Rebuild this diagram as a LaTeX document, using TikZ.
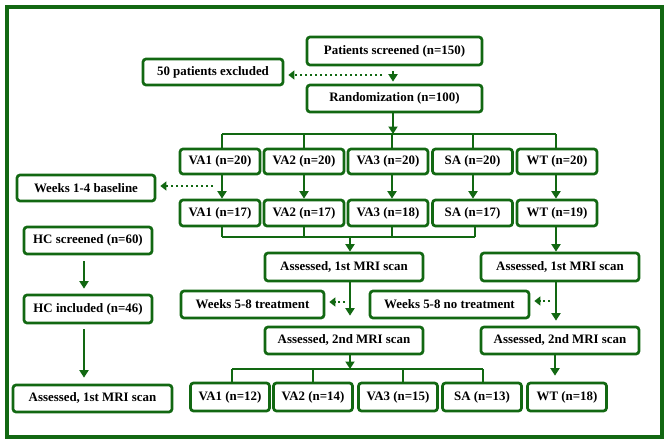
\documentclass[tikz,border=0pt]{standalone}
\usepackage{fontspec}
\setmainfont{Liberation Serif}
\usetikzlibrary{arrows.meta}
\definecolor{dg}{RGB}{18,104,18}
\begin{document}
\begin{tikzpicture}[x=1pt,y=-1pt,
  box/.style={draw=dg, line width=2.7pt, rounded corners=3pt, fill=white, inner sep=0pt,
    font=\bfseries\fontsize{12.9}{14}\selectfont, text=black},
  ln/.style={draw=dg, line width=2.8pt},
  arr/.style={ln, -{Triangle[width=9pt,length=7.5pt]}},
  dot/.style={draw=dg, line width=2.8pt, dash pattern=on 2.5pt off 2.5pt, -{Triangle[width=9pt,length=6pt]}}]
\useasboundingbox (0,0) rectangle (670,447);
\draw[dg, line width=3.2pt] (7,7) rectangle (662,437);

% top
\node[box, minimum width=175, minimum height=28] (ps) at (394.5,51) {Patients screened (n=150)};
\node[box, minimum width=140, minimum height=26] (ex) at (213,72) {50 patients excluded};
\node[box, minimum width=175, minimum height=27] (rnd) at (394.5,98.5) {Randomization (n=100)};
\draw[arr, shorten <=5pt, shorten >=2pt] (ps.south -| 393,0) -- (rnd.north -| 393,0);
\coordinate (d0) at (382,75);
\draw[dot, shorten >=4pt] (d0) -- (ex.east |- d0);

% row 1
\foreach \n/\x/\t in {va1/220/VA1, va2/304/VA2, va3/388/VA3, sa/472.5/SA, wt/557/WT}{
  \node[box, minimum width=80, minimum height=25] (\n a) at (\x,161.5) {\t\ (n=20)};
}
\foreach \n/\x/\t in {va1/220/VA1 (n=17), va2/304/VA2 (n=17), va3/388/VA3 (n=18), sa/472.5/SA (n=17), wt/557/WT (n=19)}{
  \node[box, minimum width=80, minimum height=26] (\n b) at (\x,213) {\t};
}
\coordinate (bar1L) at (222,134);
\coordinate (bar1R) at (556,134);
\draw[ln] (bar1L) -- (bar1R);
\draw[arr] (rnd.south -| 393,0) -- (393,134);
\foreach \n/\x in {va1/222, va2/304, va3/392, sa/473, wt/556}{
  \draw[ln] (\x,134) -- (\n a.north -| \x,0);
  \draw[arr] (\n a.south -| \x,0) -- (\n b.north -| \x,0);
}
\node[box, minimum width=138, minimum height=26] (wk1) at (86,188) {Weeks 1-4 baseline};
\coordinate (d1) at (213,186);
\draw[dot, shorten >=4pt] (d1) -- (wk1.east |- d1);

% row 2 joins
\draw[ln] (222,237) -- (475,237);
\foreach \n/\x in {va1/222, va2/304, va3/392, sa/475}{
  \draw[ln] (\n b.south -| \x,0) -- (\x,237);
}
\node[box, minimum width=158, minimum height=28] (a1l) at (344,267) {Assessed, 1st MRI scan};
\node[box, minimum width=158, minimum height=28] (a1r) at (560,267) {Assessed, 1st MRI scan};
\draw[arr] (350,237) -- (a1l.north -| 350,0);
\draw[arr] (wtb.south -| 556,0) -- (a1r.north -| 556,0);

\node[box, minimum width=143, minimum height=27] (w5t) at (252.5,304.5) {Weeks 5-8 treatment};
\node[box, minimum width=159, minimum height=27] (w5n) at (449.5,304.5) {Weeks 5-8 no treatment};
\node[box, minimum width=158, minimum height=27] (a2l) at (344,340.5) {Assessed, 2nd MRI scan};
\node[box, minimum width=158, minimum height=27] (a2r) at (560,340.5) {Assessed, 2nd MRI scan};
\draw[arr, shorten >=10pt] (a1l.south -| 350,0) -- (a2l.north -| 350,0);
\draw[arr, shorten >=5pt] (a1r.south -| 556,0) -- (a2r.north -| 556,0);
\coordinate (d2) at (345,302);
\coordinate (d3) at (550,301);
\draw[dot, shorten >=4pt] (d2) -- (w5t.east |- d2);
\draw[dot, shorten >=4pt] (d3) -- (w5n.east |- d3);

% bottom row
\foreach \n/\x/\t in {va1/230/VA1 (n=12), va2/313/VA2 (n=14), va3/398/VA3 (n=15), sa/482/SA (n=13), wt/567/WT (n=18)}{
  \node[box, minimum width=79, minimum height=28] (\n c) at (\x,397) {\t};
}
\draw[ln] (232,369) -- (483,369);
\draw[arr] (a2l.south -| 350,0) -- (350,369);
\foreach \n/\x in {va1/232, va2/313, va3/403, sa/483}{
  \draw[ln] (\x,369) -- (\n c.north -| \x,0);
}
\draw[arr, shorten >=6pt] (a2r.south -| 555,0) -- (wtc.north -| 555,0);

% HC column
\node[box, minimum width=128, minimum height=27] (hcs) at (88,240.5) {HC screened (n=60)};
\node[box, minimum width=128, minimum height=28] (hci) at (88,309) {HC included (n=46)};
\node[box, minimum width=159, minimum height=27] (a1h) at (92.5,398.5) {Assessed, 1st MRI scan};
\draw[arr, shorten <=6pt, shorten >=5pt] (hcs.south -| 84,0) -- (hci.north -| 84,0);
\draw[arr, shorten <=5pt, shorten >=6pt] (hci.south -| 84,0) -- (a1h.north -| 84,0);
\end{tikzpicture}
\end{document}
